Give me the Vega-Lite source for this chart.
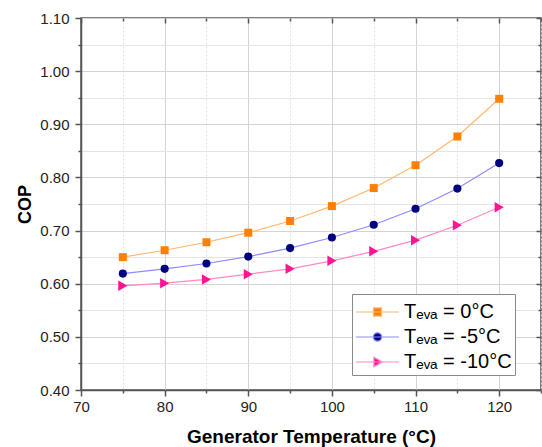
{
  "$schema": "https://vega.github.io/schema/vega-lite/v6.json",
  "width": 460,
  "height": 372,
  "autosize": {"type": "none"},
  "padding": {"left": 81, "top": 18, "right": 1, "bottom": 57},
  "background": "white",
  "config": {
    "font": "Liberation Sans",
    "view": {"stroke": "#555555", "strokeWidth": 1.5}
  },
  "data": {
    "values": [
      {"T": 75, "COP": 0.650, "series": "0°C"},
      {"T": 80, "COP": 0.663, "series": "0°C"},
      {"T": 85, "COP": 0.678, "series": "0°C"},
      {"T": 90, "COP": 0.696, "series": "0°C"},
      {"T": 95, "COP": 0.718, "series": "0°C"},
      {"T": 100, "COP": 0.746, "series": "0°C"},
      {"T": 105, "COP": 0.780, "series": "0°C"},
      {"T": 110, "COP": 0.823, "series": "0°C"},
      {"T": 115, "COP": 0.877, "series": "0°C"},
      {"T": 120, "COP": 0.948, "series": "0°C"},
      {"T": 75, "COP": 0.619, "series": "-5°C"},
      {"T": 80, "COP": 0.628, "series": "-5°C"},
      {"T": 85, "COP": 0.638, "series": "-5°C"},
      {"T": 90, "COP": 0.651, "series": "-5°C"},
      {"T": 95, "COP": 0.667, "series": "-5°C"},
      {"T": 100, "COP": 0.687, "series": "-5°C"},
      {"T": 105, "COP": 0.711, "series": "-5°C"},
      {"T": 110, "COP": 0.741, "series": "-5°C"},
      {"T": 115, "COP": 0.779, "series": "-5°C"},
      {"T": 120, "COP": 0.827, "series": "-5°C"},
      {"T": 75, "COP": 0.596, "series": "-10°C"},
      {"T": 80, "COP": 0.601, "series": "-10°C"},
      {"T": 85, "COP": 0.608, "series": "-10°C"},
      {"T": 90, "COP": 0.618, "series": "-10°C"},
      {"T": 95, "COP": 0.628, "series": "-10°C"},
      {"T": 100, "COP": 0.643, "series": "-10°C"},
      {"T": 105, "COP": 0.661, "series": "-10°C"},
      {"T": 110, "COP": 0.682, "series": "-10°C"},
      {"T": 115, "COP": 0.710, "series": "-10°C"},
      {"T": 120, "COP": 0.744, "series": "-10°C"}
    ]
  },
  "layer": [
    {
      "mark": {"type": "line", "strokeWidth": 1.2},
      "encoding": {
        "x": {
          "field": "T", "type": "quantitative",
          "scale": {"domain": [70, 125], "nice": false, "zero": false},
          "axis": {
            "orient": "bottom",
            "title": "Generator Temperature (°C)",
            "values": [70, 75, 80, 85, 90, 95, 100, 105, 110, 115, 120, 125],
            "labelExpr": "datum.value % 10 === 0 ? datum.label : ''",
            "grid": true,
            "gridColor": {"condition": {"test": "datum.value % 10 === 0", "value": "#d4d4d4"}, "value": "#e2e2e2"},
            "gridDash": {"condition": {"test": "datum.value % 10 === 0", "value": []}, "value": [2, 2]},
            "gridWidth": 1,
            "domainColor": "#555555", "domainWidth": 1.5,
            "tickColor": "#555555", "tickWidth": 1.5,
            "tickSize": {"condition": {"test": "datum.value % 10 === 0", "value": 6}, "value": 3},
            "labelFont": "Liberation Sans", "labelFontSize": 15, "labelColor": "#222222",
            "labelPadding": 3, "labelFlush": false, "labelOverlap": false,
            "titleFont": "Liberation Sans", "titleFontSize": 19, "titleFontWeight": "bold",
            "titleColor": "#000000", "titlePadding": 13
          }
        },
        "y": {
          "field": "COP", "type": "quantitative",
          "scale": {"domain": [0.4, 1.1], "nice": false, "zero": false},
          "axis": {
            "orient": "left",
            "title": "COP",
            "values": [0.4, 0.45, 0.5, 0.55, 0.6, 0.65, 0.7, 0.75, 0.8, 0.85, 0.9, 0.95, 1.0, 1.05, 1.1],
            "format": ".2f",
            "labelExpr": "round(datum.value * 100) % 10 === 0 ? datum.label : ''",
            "grid": true,
            "gridColor": {"condition": {"test": "round(datum.value * 100) % 10 === 0", "value": "#d4d4d4"}, "value": "#e4e4e4"},
            "gridWidth": 1,
            "domainColor": "#555555", "domainWidth": 1.5,
            "tickColor": "#555555", "tickWidth": 1.5,
            "tickSize": {"condition": {"test": "round(datum.value * 100) % 10 === 0", "value": 6}, "value": 3},
            "labelFont": "Liberation Sans", "labelFontSize": 15, "labelColor": "#222222",
            "labelPadding": 6, "labelFlush": false, "labelOverlap": false,
            "titleFont": "Liberation Sans", "titleFontSize": 18, "titleFontWeight": "bold",
            "titleColor": "#000000", "titlePadding": 5
          }
        },
        "stroke": {
          "field": "series", "type": "nominal",
          "scale": {"domain": ["0°C", "-5°C", "-10°C"], "range": ["#ffb870", "#8c8cff", "#ff88c6"]},
          "legend": {
            "title": null,
            "orient": "none",
            "legendX": 271,
            "legendY": 276,
            "labelExpr": "'Tₑᵥₐ = ' + datum.label",
            "fillColor": "white",
            "strokeColor": "#8a8a8a",
            "padding": 3,
            "labelFont": "Liberation Sans",
            "labelFontSize": 20,
            "labelColor": "#000000",
            "labelLimit": 300,
            "labelOffset": 19,
            "rowPadding": 0,
            "symbolSize": 784,
            "symbolStrokeWidth": 1.2,
            "symbolOpacity": 1,
            "encode": {
              "symbols": {
                "update": {
                  "shape": {"signal": "datum.value === '0°C' ? 'M-1,0H2.07M0.25,-0.29H0.82V0.29H0.25Z' : datum.value === '-5°C' ? 'M-1,0H2.07M0.235,0A0.3,0.3,0,1,1,0.835,0A0.3,0.3,0,1,1,0.235,0Z' : 'M-1,0H2.07M0.28,-0.34L0.88,0L0.28,0.34Z'"},
                  "fill": {"signal": "datum.value === '0°C' ? '#ff8000' : datum.value === '-5°C' ? '#000080' : '#ff1493'"},
                  "stroke": {"signal": "datum.value === '0°C' ? '#ffb870' : datum.value === '-5°C' ? '#8c8cff' : '#ff88c6'"},
                  "strokeWidth": {"value": 1.2},
                  "opacity": {"value": 1},
                  "size": {"value": 784}
                }
              }
            }
          }
        }
      }
    },
    {
      "transform": [{"filter": "datum.series === '0°C'"}],
      "mark": {"type": "point", "filled": true, "opacity": 1, "strokeWidth": 0, "shape": "square", "size": 64, "fill": "#ff8000"},
      "encoding": {
        "x": {"field": "T", "type": "quantitative", "axis": null},
        "y": {"field": "COP", "type": "quantitative", "axis": null}
      }
    },
    {
      "transform": [{"filter": "datum.series === '-5°C'"}],
      "mark": {"type": "point", "filled": true, "opacity": 1, "strokeWidth": 0, "shape": "circle", "size": 66, "fill": "#000080"},
      "encoding": {
        "x": {"field": "T", "type": "quantitative", "axis": null},
        "y": {"field": "COP", "type": "quantitative", "axis": null}
      }
    },
    {
      "transform": [{"filter": "datum.series === '-10°C'"}],
      "mark": {"type": "point", "filled": true, "opacity": 1, "strokeWidth": 0, "shape": "triangle-right", "size": 110, "fill": "#ff1493"},
      "encoding": {
        "x": {"field": "T", "type": "quantitative", "axis": null},
        "y": {"field": "COP", "type": "quantitative", "axis": null}
      }
    },
    {
      "transform": [{"filter": "false"}],
      "mark": {"type": "point", "opacity": 0},
      "encoding": {
        "x": {
          "field": "T", "type": "quantitative",
          "axis": {
            "orient": "top", "title": null, "labels": false, "domain": false, "grid": false,
            "values": [70, 75, 80, 85, 90, 95, 100, 105, 110, 115, 120, 125],
            "tickColor": "#555555", "tickWidth": 1.5,
            "tickSize": {"condition": {"test": "datum.value % 10 === 0", "value": -5}, "value": -3}
          }
        },
        "y": {
          "field": "COP", "type": "quantitative",
          "axis": {
            "orient": "right", "title": null, "labels": false, "domain": false, "grid": false,
            "values": [0.4, 0.45, 0.5, 0.55, 0.6, 0.65, 0.7, 0.75, 0.8, 0.85, 0.9, 0.95, 1.0, 1.05, 1.1],
            "tickColor": "#555555", "tickWidth": 1.5,
            "tickSize": {"condition": {"test": "round(datum.value * 100) % 10 === 0", "value": -5}, "value": -3}
          }
        }
      }
    }
  ],
  "resolve": {
    "axis": {"x": "independent", "y": "independent"}
  }
}
